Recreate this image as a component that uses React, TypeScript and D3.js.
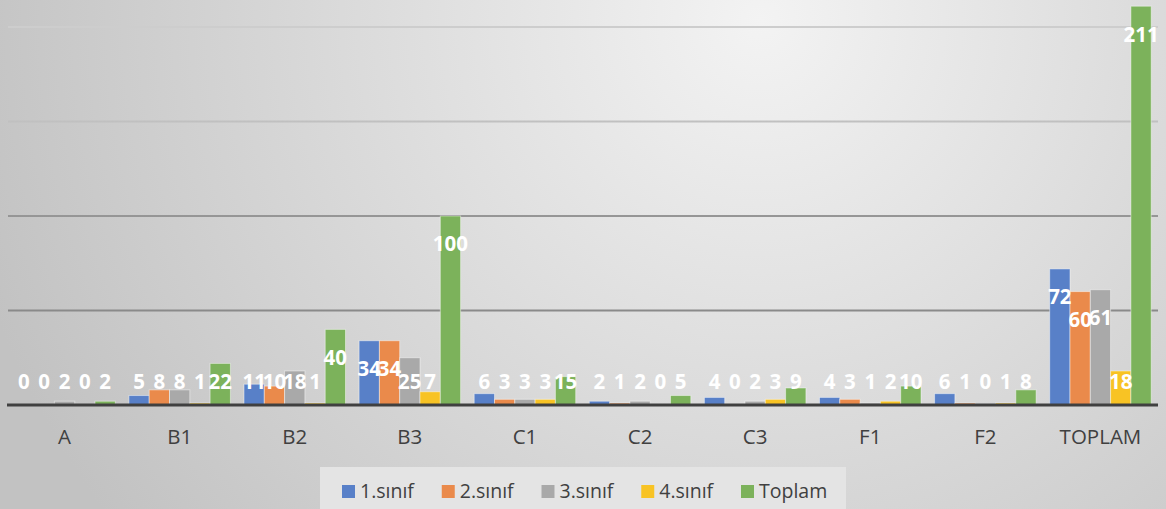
import React, { useEffect, useRef } from "react";
import * as d3 from "d3";

const categories = ["A", "B1", "B2", "B3", "C1", "C2", "C3", "F1", "F2", "TOPLAM"];
const seriesNames = ["1.sınıf", "2.sınıf", "3.sınıf", "4.sınıf", "Toplam"];
const sinif1 = [0, 5, 11, 34, 6, 2, 4, 4, 6, 72];
const sinif2 = [0, 8, 10, 34, 3, 1, 0, 3, 1, 60];
const sinif3 = [2, 8, 18, 25, 3, 2, 2, 1, 0, 61];
const sinif4 = [0, 1, 1, 7, 3, 0, 3, 2, 1, 18];
const toplam = [2, 22, 40, 100, 15, 5, 9, 10, 8, 211];
const gridTicks = [50, 100, 150, 200];
const colors = ["#5880c8", "#ea8a4b", "#a9a9a9", "#f8c324", "#7cb25b"];

const W = 1166, H = 509;

export default function App() {
  const ref = useRef<SVGSVGElement>(null);

  useEffect(() => {
    const svg = d3.select(ref.current);
    svg.selectAll("*").remove();
    const seriesVals = [sinif1, sinif2, sinif3, sinif4, toplam];

    const defs = svg.append("defs");
    const bg = defs.append("radialGradient").attr("id", "bg")
      .attr("gradientUnits", "userSpaceOnUse")
      .attr("cx", 760).attr("cy", 20).attr("r", 820);
    bg.append("stop").attr("offset", "0%").attr("stop-color", "#f3f3f3");
    bg.append("stop").attr("offset", "100%").attr("stop-color", "#c2c2c2");

    const gl = defs.append("linearGradient").attr("id", "grid")
      .attr("gradientUnits", "userSpaceOnUse")
      .attr("x1", 0).attr("x2", 0).attr("y1", 27).attr("y2", 310);
    gl.append("stop").attr("offset", "0%").attr("stop-color", "#cdcdcd");
    gl.append("stop").attr("offset", "45%").attr("stop-color", "#bcbcbc");
    gl.append("stop").attr("offset", "70%").attr("stop-color", "#909090");
    gl.append("stop").attr("offset", "100%").attr("stop-color", "#8a8a8a");

    svg.append("rect").attr("width", W).attr("height", H).attr("fill", "url(#bg)");

    const x = d3.scaleBand<string>().domain(categories).range([7, 1158]).paddingInner(0.118).paddingOuter(0.059);
    const xs = d3.scaleBand<number>().domain(d3.range(seriesNames.length)).range([0, x.bandwidth()]);
    const y = d3.scaleLinear().domain([0, 200]).range([405, 27]);

    svg.append("g").selectAll("line").data(gridTicks).join("line")
      .attr("x1", 8).attr("x2", 1158)
      .attr("y1", d => y(d)).attr("y2", d => y(d))
      .attr("stroke", "url(#grid)").attr("stroke-width", 2);

    const groups = svg.append("g").selectAll("g").data(categories).join("g")
      .attr("transform", d => `translate(${x(d)},0)`);

    groups.selectAll("rect")
      .data((_, i) => seriesVals.map((s, k) => ({ k, v: s[i] })))
      .join("rect")
      .attr("x", d => xs(d.k)!)
      .attr("y", d => y(d.v))
      .attr("width", xs.bandwidth())
      .attr("height", d => 405 - y(d.v))
      .attr("fill", d => colors[d.k])
      .attr("stroke", "#ffffff").attr("stroke-opacity", 0.45).attr("stroke-width", 1);

    svg.append("line").attr("x1", 7).attr("x2", 1158).attr("y1", 405).attr("y2", 405)
      .attr("stroke", "#404040").attr("stroke-width", 3);

    // value labels (inside end, kept above the axis)
    groups.selectAll("text")
      .data((_, i) => seriesVals.map((s, k) => ({ k, v: s[i] })))
      .join("text")
      .attr("x", d => xs(d.k)! + xs.bandwidth() / 2)
      .attr("y", d => Math.min(y(d.v) + 28, 382))
      .attr("dy", "0.36em")
      .attr("text-anchor", "middle")
      .attr("fill", "#ffffff")
      .attr("font-family", "'Open Sans', sans-serif")
      .attr("font-weight", "bold")
      .attr("font-size", 20.5)
      .text(d => d.v);

    svg.append("g").selectAll("text").data(categories).join("text")
      .attr("x", d => x(d)! + x.bandwidth() / 2)
      .attr("y", 444)
      .attr("text-anchor", "middle")
      .attr("fill", "#404040")
      .attr("font-family", "'Open Sans', sans-serif")
      .attr("font-size", 20.5)
      .text(d => d);

    // legend
    svg.append("rect").attr("x", 320).attr("y", 467).attr("width", 526).attr("height", 50)
      .attr("fill", "#e4e4e4");
    const lx = d3.scalePoint<string>().domain(seriesNames).range([342, 741]);
    const items = svg.append("g").selectAll("g").data(seriesNames).join("g")
      .attr("transform", d => `translate(${lx(d)},0)`);
    items.append("rect").attr("y", 485).attr("width", 13).attr("height", 13)
      .attr("fill", (_, i) => colors[i]);
    items.append("text").attr("x", 18).attr("y", 498)
      .attr("fill", "#404040")
      .attr("font-family", "'Open Sans', sans-serif")
      .attr("font-size", 19.5)
      .text(d => d);
  }, []);

  return (
    <svg ref={ref} width={W} height={H} style={{ position: "absolute", left: 0, top: 0 }} />
  );
}
